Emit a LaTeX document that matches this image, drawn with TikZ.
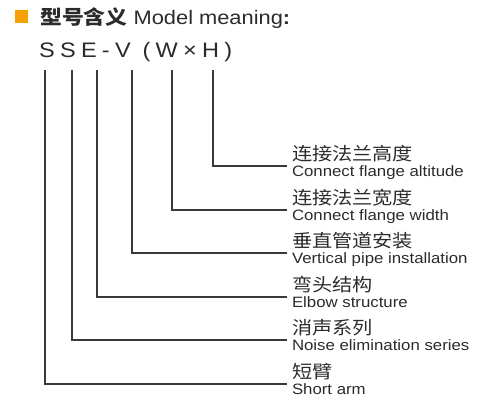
\documentclass[tikz,border=0pt]{standalone}
\usepackage{fontspec}
\setmainfont{Liberation Sans}[FakeStretch=1.12]
\newfontfamily\zhfont{Noto Sans CJK SC}[FakeStretch=1.12]
\usetikzlibrary{positioning}
\definecolor{cheng}{HTML}{F5A100}
\definecolor{wenzi}{HTML}{2B2B2B}
\definecolor{xianse}{HTML}{3A3A3A}

\begin{document}
\begin{tikzpicture}[x=1pt, y=-1pt,
  hanzi/.style={font=\zhfont\fontsize{18}{19}\selectfont, text=wenzi, inner sep=0pt,
                outer xsep=5pt, outer ysep=0pt, anchor=south west},
  ying/.style={font=\fontsize{15}{16}\selectfont, text=wenzi, inner sep=0pt,
               outer xsep=5pt, outer ysep=0pt, anchor=north west},
  xian/.style={draw=xianse, line width=1.3pt}]
  \useasboundingbox (0,0) rectangle (484,404);
  \node[fill=cheng, minimum size=13pt, inner sep=0pt] (fang) at (21.5,17) {};
  \node[anchor=base west, inner sep=0pt, text=wenzi, font=\fontsize{19.5}{20}\selectfont] (biaoti) at (40,25)
       {{\zhfont\bfseries 型号含义} Model meaning\textbf{:}};
  \node[anchor=base west, inner sep=0pt, text=wenzi,
        font=\fontsize{21}{22}\selectfont\addfontfeature{LetterSpace=25}] (xinghao) at (39,57) {SSE-V (W×H)};
  \coordinate (c1) at (213,70);
  \coordinate (c2) at (172,70);
  \coordinate (c3) at (132,70);
  \coordinate (c4) at (97,70);
  \coordinate (c5) at (72,70);
  \coordinate (c6) at (45,70);
  \node[hanzi] (zh1) at (287,162) {连接法兰高度};
  \node[ying]  (en1) at (287,166) {Connect flange altitude};
  \node[hanzi] (zh2) at (287,206) {连接法兰宽度};
  \node[ying]  (en2) at (287,210) {Connect flange width};
  \node[hanzi] (zh3) at (287,249) {垂直管道安装};
  \node[ying]  (en3) at (287,253) {Vertical pipe installation};
  \node[hanzi] (zh4) at (287,293) {弯头结构};
  \node[ying]  (en4) at (287,297) {Elbow structure};
  \node[hanzi] (zh5) at (287,336) {消声系列};
  \node[ying]  (en5) at (287,340) {Noise elimination series};
  \node[hanzi] (zh6) at (287,380) {短臂};
  \node[ying]  (en6) at (287,384) {Short arm};
  \draw[xian] (c1) |- (en1.north west);
  \draw[xian] (c2) |- (en2.north west);
  \draw[xian] (c3) |- (en3.north west);
  \draw[xian] (c4) |- (en4.north west);
  \draw[xian] (c5) |- (en5.north west);
  \draw[xian] (c6) |- (en6.north west);
\end{tikzpicture}
\end{document}
